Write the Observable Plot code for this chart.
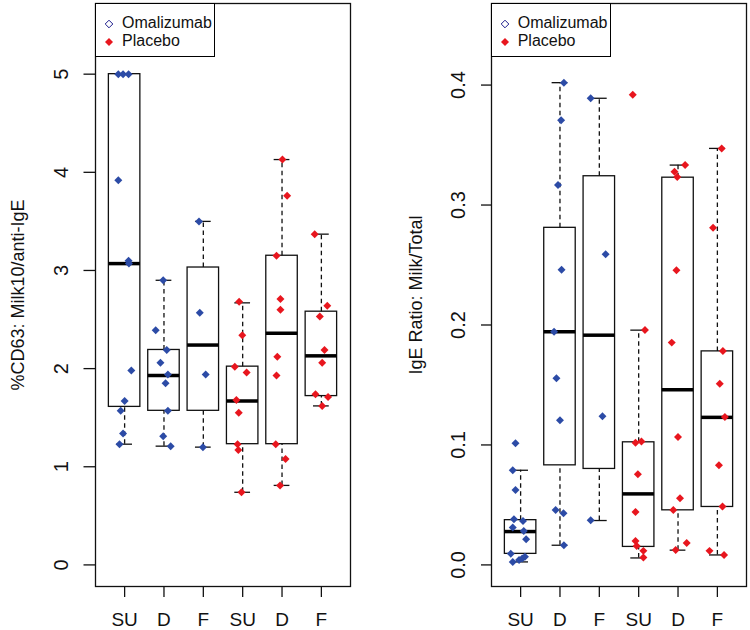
<!DOCTYPE html>
<html><head><meta charset="utf-8">
<script src="https://cdn.jsdelivr.net/npm/d3@7"></script>
<script src="https://cdn.jsdelivr.net/npm/@observablehq/plot@0.6"></script>
<style>
body{margin:0;background:#fff;font-family:"Liberation Sans",Arial,sans-serif;}
#wrap{position:relative;width:750px;height:630px;display:flex;}
#wrap svg{display:block;}
.legend{position:absolute;top:3px;height:54px;border:1.3px solid #000;box-sizing:border-box;background:#fff;font-size:16px;color:#111;}
.legend .row{position:absolute;left:0;white-space:nowrap;line-height:18px;}
.legend svg{position:absolute;}
</style></head><body><div id="wrap"></div>
<script>
// ---------- shared categories ----------
const groupLabels = ["SU","D","F","SU","D","F"];
const groupTreatment = ["Omalizumab","Omalizumab","Omalizumab","Placebo","Placebo","Placebo"];
const treatments = ["Omalizumab","Placebo"];
const colors = ["#2c4ba6","#e8161e"];

// ---------- panel 1: %CD63 ----------
const cd63Values = [
  [5.0,5.0,5.0,3.92,3.10,3.07,1.98,1.67,1.57,1.34,1.23],
  [2.90,2.39,2.19,2.06,1.94,1.85,1.57,1.31,1.21],
  [3.50,2.57,1.94,1.20],
  [2.68,2.34,2.02,1.96,1.68,1.55,1.23,1.17,0.74],
  [4.13,3.76,3.15,2.71,2.60,2.12,1.93,1.23,1.08,0.81],
  [3.37,2.64,2.53,2.19,2.06,1.74,1.71,1.62]
];
const cd63Jitter = [
  [-0.16,-0.04,0.10,-0.16,0.10,0.11,0.17,0.0,-0.10,-0.04,-0.13],
  [-0.02,-0.21,0.07,-0.09,0.10,0.04,0.10,-0.02,0.17],
  [-0.11,-0.09,0.06,-0.01],
  [-0.09,-0.01,-0.20,0.10,-0.16,-0.10,-0.13,-0.11,-0.03],
  [0.01,0.13,-0.14,-0.04,-0.04,-0.12,-0.14,-0.16,0.09,-0.05],
  [-0.17,0.15,-0.04,0.08,0.02,-0.15,0.17,0.02]
];
const cd63Lo  = [1.23,1.21,1.20,0.74,0.81,1.62];
const cd63Q1  = [1.61,1.57,1.57,1.23,1.23,1.72];
const cd63Med = [3.07,1.93,2.24,1.67,2.36,2.13];
const cd63Q3  = [5.00,2.19,3.03,2.02,3.15,2.58];
const cd63Hi  = [5.00,2.90,3.50,2.67,4.13,3.37];
const cd63Ticks = [0,1,2,3,4,5];

// ---------- panel 2: IgE ratio ----------
const igeValues = [
  [0.1014,0.0789,0.0625,0.038,0.0367,0.0311,0.0283,0.0214,0.0094,0.0025,0.004,0.0053,0.0067],
  [0.402,0.3706,0.3167,0.246,0.1944,0.1556,0.1206,0.0458,0.043,0.0164],
  [0.389,0.259,0.124,0.0372],
  [0.392,0.1958,0.1028,0.1019,0.0756,0.0442,0.020,0.0158,0.0117,0.0061],
  [0.3333,0.3278,0.3233,0.2456,0.1853,0.1067,0.0556,0.0458,0.0183,0.0125],
  [0.3472,0.281,0.1783,0.151,0.1233,0.0831,0.0486,0.0117,0.0083]
];
const igeJitter = [
  [-0.13,-0.20,-0.13,-0.17,0.06,-0.20,0.08,0.14,-0.25,-0.20,-0.04,0.04,0.11],
  [0.10,0.03,-0.05,0.04,-0.15,-0.09,0.0,-0.11,0.09,0.10],
  [-0.22,0.16,0.08,-0.22],
  [-0.15,0.16,0.07,-0.08,-0.02,-0.08,-0.08,-0.05,0.12,0.12],
  [0.18,-0.09,-0.02,-0.04,-0.16,0.0,0.05,-0.12,0.22,-0.06],
  [0.11,-0.11,0.14,0.06,0.19,0.04,0.13,-0.20,0.17]
];
const igeLo  = [0.0025,0.0164,0.0370,0.0058,0.0123,0.0083];
const igeQ1  = [0.0092,0.0830,0.0800,0.0150,0.0455,0.0483];
const igeMed = [0.0278,0.1944,0.1915,0.0592,0.1460,0.1230];
const igeQ3  = [0.0373,0.2810,0.3240,0.1022,0.3228,0.1780];
const igeHi  = [0.0789,0.4020,0.3890,0.1957,0.3333,0.3472];
const igeTicks = [0,0.1,0.2,0.3,0.4];

function panel(o) {
  const boxes = groupLabels.map((lab, i) => ({g: i + 1, lo: o.lo[i], q1: o.q1[i], med: o.med[i], q3: o.q3[i], hi: o.hi[i]}));
  const pts = [];
  o.values.forEach((arr, i) => arr.forEach((v, k) => pts.push({g: i + 1, j: o.jitter[i][k], v, t: groupTreatment[i]})));
  const half = 0.4, cap = 0.2;
  return Plot.plot({
    width: 375, height: 630,
    marginLeft: o.marginLeft, marginRight: o.marginRight, marginTop: 3, marginBottom: 44,
    style: {fontFamily: "'Liberation Sans', Arial, sans-serif", fontSize: "20px", color: "#111", background: "transparent", overflow: "visible"},
    x: {domain: [0.26, 6.74]},
    y: {domain: o.yDomain},
    color: {domain: treatments, range: colors},
    marks: [
      Plot.axisX({ticks: [1,2,3,4,5,6], tickFormat: d => groupLabels[d - 1], tickSize: 11, tickPadding: 22, fontSize: 19, lineAnchor: "middle", label: null, strokeWidth: 1.3}),
      Plot.axisY({ticks: o.ticks, tickFormat: o.fmt, tickSize: o.tickSize, tickPadding: o.tickPadding, tickRotate: -90, textAnchor: "middle", lineAnchor: "middle", label: null, strokeWidth: 1.3}),
      Plot.text([o.label], {text: d => d, frameAnchor: "left", dx: o.labelDx, rotate: -90, textAnchor: "middle", lineAnchor: "middle", fontSize: 18}),
      Plot.ruleX(boxes, {x: "g", y1: "q3", y2: "hi", stroke: "#111", strokeWidth: 1.3, strokeDasharray: "4.5,3.5"}),
      Plot.ruleX(boxes, {x: "g", y1: "lo", y2: "q1", stroke: "#111", strokeWidth: 1.3, strokeDasharray: "4.5,3.5"}),
      Plot.ruleY(boxes, {y: "hi", x1: d => d.g - cap, x2: d => d.g + cap, stroke: "#111", strokeWidth: 1.3}),
      Plot.ruleY(boxes, {y: "lo", x1: d => d.g - cap, x2: d => d.g + cap, stroke: "#111", strokeWidth: 1.3}),
      Plot.rect(boxes, {x1: d => d.g - half, x2: d => d.g + half, y1: "q1", y2: "q3", fill: "none", stroke: "#111", strokeWidth: 1.3}),
      Plot.ruleY(boxes, {y: "med", x1: d => d.g - half, x2: d => d.g + half, stroke: "#000", strokeWidth: 3.5}),
      Plot.dot(pts, {x: d => d.g + d.j, y: "v", symbol: "diamond2", r: 3.6, fill: "t", stroke: null}),
      Plot.frame({stroke: "#111", strokeWidth: 1.3})
    ]
  });
}

const wrap = document.getElementById("wrap");
wrap.appendChild(panel({
  values: cd63Values, jitter: cd63Jitter, lo: cd63Lo, q1: cd63Q1, med: cd63Med, q3: cd63Q3, hi: cd63Hi,
  yDomain: [-0.22, 5.72], ticks: cd63Ticks, fmt: d3.format("d"),
  marginLeft: 95, marginRight: 25, tickSize: 11.5, tickPadding: 22.7, labelDx: -77.5,
  label: "%CD63: Milk10/anti-IgE"
}));
wrap.appendChild(panel({
  values: igeValues, jitter: igeJitter, lo: igeLo, q1: igeQ1, med: igeMed, q3: igeQ3, hi: igeHi,
  yDomain: [-0.018, 0.468], ticks: igeTicks, fmt: d3.format(".1f"),
  marginLeft: 116, marginRight: 4, tickSize: 10, tickPadding: 23.4, labelDx: -75.7,
  label: "IgE Ratio: Milk/Total"
}));

function legend(left, width) {
  const div = document.createElement("div");
  div.className = "legend";
  div.style.left = left + "px";
  div.style.width = width + "px";
  const items = [
    {name: treatments[0], open: true, color: "#1c1c8c", y: 20},
    {name: treatments[1], open: false, color: colors[1], y: 38}
  ];
  for (const it of items) {
    const s = document.createElementNS("http://www.w3.org/2000/svg", "svg");
    s.setAttribute("width", 12); s.setAttribute("height", 12);
    s.style.left = "7px"; s.style.top = (it.y - 6) + "px";
    const p = document.createElementNS("http://www.w3.org/2000/svg", "path");
    p.setAttribute("d", it.open ? "M6,2.2L9.8,6L6,9.8L2.2,6Z" : "M6,2L10,6L6,10L2,6Z");
    p.setAttribute("fill", it.open ? "none" : it.color);
    p.setAttribute("stroke", it.open ? it.color : "none");
    p.setAttribute("stroke-width", 1);
    s.appendChild(p);
    div.appendChild(s);
    const t = document.createElement("div");
    t.className = "row";
    t.textContent = it.name;
    t.style.left = "26px";
    t.style.top = (it.y - 10) + "px";
    div.appendChild(t);
  }
  wrap.appendChild(div);
}
legend(95, 120);
legend(490.7, 120.3);
</script>
</body></html>
